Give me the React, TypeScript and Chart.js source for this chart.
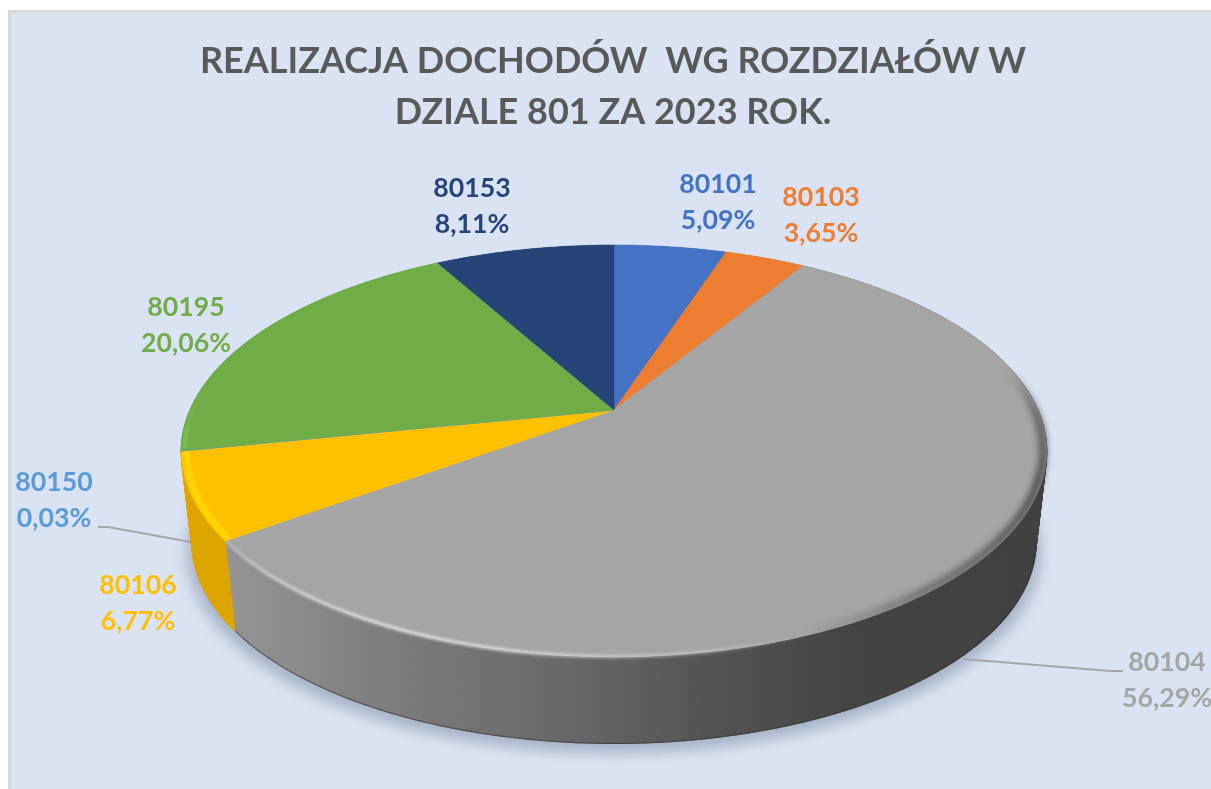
import React, { useEffect, useRef } from "react";
import { Chart, registerables } from "chart.js";

Chart.register(...registerables);

const titleLines = ["REALIZACJA DOCHODÓW  WG ROZDZIAŁÓW W", "DZIALE 801 ZA 2023 ROK."];
const categories = ["80101", "80103", "80104", "80106", "80150", "80195", "80153"];
const shares = [5.09, 3.65, 56.29, 6.77, 0.03, 20.06, 8.11];
const sliceColours = ["#4472C4", "#ED7D31", "#A5A5A5", "#FFC000", "#5B9BD5", "#70AD47", "#264478"];
const sideColours = ["#3A62A8", "#C96A2A", "#666666", "#DDA500", "#4E84B5", "#5F933C", "#203A66"];
const sidePaintOrder = [5, 6, 0, 1, 4, 2, 3];
const labelCentres: [number, number][] = [
  [718, 184], [821, 197], [1167, 662], [138, 585], [54, 482], [186, 307], [472, 188],
];
const leaderLines: [number, number][][] = [
  [[963, 659], [1110, 671], [1123, 671]],
  [[98, 527], [108, 527], [191, 542]],
];

// perspective view of the disc
const view = { cx: 614, cy: 410, a: 424, b: 197.8, k: 0.199, vanishY: 4137, s: 0.975 };

function topPoint(t: number, r = 1): [number, number] {
  const u = Math.sin(t) * r;
  const v = Math.cos(t) * r;
  const d = 1 + view.k * v;
  return [view.cx + (view.a * u) / d, view.cy - (view.b * v) / d];
}
function bottomPoint(t: number): [number, number] {
  const [x, y] = topPoint(t);
  return [view.cx + (x - view.cx) * view.s, view.vanishY + (y - view.vanishY) * view.s];
}
function rimAngles(a: number, b: number): number[] {
  const n = Math.max(2, Math.ceil((b - a) / (Math.PI / 360)));
  const out: number[] = [];
  for (let i = 0; i <= n; i++) out.push(a + ((b - a) * i) / n);
  return out;
}
function lerpTable(table: number[][], deg: number): number {
  for (let i = 0; i < table.length - 1; i++) {
    const [d0, a0] = table[i];
    const [d1, a1] = table[i + 1];
    if (deg >= d0 && deg <= d1) return a0 + ((a1 - a0) * (deg - d0)) / (d1 - d0);
  }
  return 0;
}

const highlightTable = [[158, 0], [168, 0.3], [180, 0.5], [195, 0.75], [205, 0.8], [225, 0.5], [234.2, 0.2]];
const darkTable = [[78, 0], [92, 0.7], [110, 0.95], [140, 0.6], [158, 0]];

function band(
  ctx: CanvasRenderingContext2D,
  a: number,
  b: number,
  r: number,
  width: number,
  blur: number,
  rgb: string,
  alphaAt: (deg: number) => number
) {
  const off = document.createElement("canvas");
  off.width = ctx.canvas.width;
  off.height = ctx.canvas.height;
  const o = off.getContext("2d")!;
  o.lineWidth = width;
  o.lineCap = "butt";
  const pts = rimAngles(a, b);
  for (let i = 0; i < pts.length - 1; i++) {
    const p = topPoint(pts[i], r);
    const q = topPoint(pts[i + 1], r);
    const deg = (pts[i] * 180) / Math.PI;
    o.strokeStyle = `rgba(${rgb},${alphaAt(deg)})`;
    o.beginPath();
    o.moveTo(p[0], p[1]);
    o.lineTo(q[0], q[1]);
    o.stroke();
  }
  ctx.save();
  ctx.filter = `blur(${blur}px)`;
  ctx.drawImage(off, 0, 0);
  ctx.restore();
}

const piePlugin = {
  id: "perspectivePie",
  beforeDraw(chart: any) {
    const { ctx, width, height } = chart;
    ctx.save();
    ctx.fillStyle = "#D9D9D9";
    ctx.fillRect(8, 10, width, height);
    ctx.fillStyle = "#DAE3F3";
    ctx.fillRect(11, 13, width, height);
    ctx.restore();
  },
  beforeDatasetsDraw(chart: any) {
    const ctx: CanvasRenderingContext2D = chart.ctx;
    const arcs = chart.getDatasetMeta(0).data;
    const range = arcs.map((arc: any) => [arc.startAngle + Math.PI / 2, arc.endAngle + Math.PI / 2]);

    // soft shadow under the disc
    ctx.save();
    ctx.filter = "blur(7px)";
    ctx.fillStyle = "rgba(80,100,130,0.38)";
    ctx.beginPath();
    rimAngles(0, Math.PI * 2).forEach((t, i) => {
      const [x, y] = bottomPoint(t);
      const px = view.cx + (x - view.cx) * 1.012;
      const py = y + 9;
      if (i === 0) ctx.moveTo(px, py);
      else ctx.lineTo(px, py);
    });
    ctx.closePath();
    ctx.fill();
    ctx.restore();

    // leader lines
    ctx.save();
    ctx.strokeStyle = "#A6A6A6";
    ctx.lineWidth = 2;
    leaderLines.forEach((line) => {
      ctx.beginPath();
      line.forEach(([x, y], i) => (i === 0 ? ctx.moveTo(x, y) : ctx.lineTo(x, y)));
      ctx.stroke();
    });
    ctx.restore();

    // side wall, one narrow quad at a time so that the fold at the silhouette stays filled
    sidePaintOrder.forEach((i) => {
      const [a, b] = range[i];
      let paint: any = sideColours[i];
      if (categories[i] === "80104") {
        const g = ctx.createLinearGradient(230, 0, 1047, 0);
        g.addColorStop(0, "#949494");
        g.addColorStop(0.2, "#7C7C7C");
        g.addColorStop(0.45, "#646464");
        g.addColorStop(0.58, "#545454");
        g.addColorStop(0.76, "#444444");
        g.addColorStop(1, "#414141");
        paint = g;
      }
      ctx.fillStyle = paint;
      ctx.strokeStyle = paint;
      ctx.lineWidth = 1.4;
      ctx.lineJoin = "round";
      const pts = rimAngles(a, b);
      const inset = 0.7;
      for (let j = 0; j < pts.length - 1; j++) {
        const p0 = topPoint(pts[j]);
        const p1 = topPoint(pts[j + 1]);
        const q1 = bottomPoint(pts[j + 1]);
        const q0 = bottomPoint(pts[j]);
        ctx.beginPath();
        ctx.moveTo(p0[0], p0[1] + inset);
        ctx.lineTo(p1[0], p1[1] + inset);
        ctx.lineTo(q1[0], q1[1] - inset);
        ctx.lineTo(q0[0], q0[1] - inset);
        ctx.closePath();
        ctx.fill();
        ctx.stroke();
      }
    });

    // darker line along the lower edge of the wall
    ctx.save();
    ctx.strokeStyle = "rgba(50,50,50,0.55)";
    ctx.lineWidth = 1.2;
    ctx.beginPath();
    rimAngles(Math.PI * 0.56, range[2][1]).forEach((t, j) => {
      const [x, y] = bottomPoint(t);
      if (j === 0) ctx.moveTo(x, y - 0.5);
      else ctx.lineTo(x, y - 0.5);
    });
    ctx.stroke();
    ctx.restore();

    // top face
    arcs.forEach((arc: any, i: number) => {
      const [a, b] = range[i];
      ctx.beginPath();
      ctx.moveTo(view.cx, view.cy);
      rimAngles(a, b).forEach((t) => {
        const [x, y] = topPoint(t);
        ctx.lineTo(x, y);
      });
      ctx.closePath();
      ctx.fillStyle = arc.options.backgroundColor;
      ctx.strokeStyle = arc.options.backgroundColor;
      ctx.lineWidth = 0.6;
      ctx.fill();
      ctx.stroke();
    });

    // bevel along the rim
    const grey = range[2];
    band(ctx, Math.PI / 3, Math.PI * 0.9, 0.992, 8, 3, "67,67,67", (d) => lerpTable(darkTable, d));
    band(ctx, Math.PI * 0.85, grey[1], 0.999, 3.5, 1.4, "240,240,240", (d) => lerpTable(highlightTable, d));
    const y = range[3];
    band(ctx, y[0] + 0.008, y[1] - 0.008, 0.989, 6, 1, "255,216,0", () => 1);
    const gr = range[5];
    band(ctx, gr[0] + 0.01, gr[0] + 0.25, 0.993, 4, 1, "128,196,84", (d) =>
      lerpTable([[(gr[0] * 180) / Math.PI, 1], [((gr[0] + 0.25) * 180) / Math.PI, 0]], d)
    );

    // data labels
    ctx.save();
    ctx.font = "700 26.7px Lato";
    ctx.textAlign = "center";
    ctx.textBaseline = "middle";
    categories.forEach((name, i) => {
      const [x, yy] = labelCentres[i];
      ctx.fillStyle = sliceColours[i];
      ctx.fillText(name, x, yy);
      ctx.fillText(shares[i].toFixed(2).replace(".", ",") + "%", x, yy + 36);
    });
    ctx.restore();
    return false;
  },
};

export default function App() {
  const ref = useRef<HTMLCanvasElement>(null);
  useEffect(() => {
    document.body.style.margin = "0";
    const chart = new Chart(ref.current!, {
      type: "pie",
      data: {
        labels: categories,
        datasets: [{ data: shares, backgroundColor: sliceColours, borderWidth: 0 }],
      },
      options: {
        responsive: false,
        animation: false,
        layout: { padding: { left: 15, top: 35 } },
        plugins: {
          legend: { display: false },
          tooltip: { enabled: false },
          title: {
            display: true,
            text: titleLines,
            color: "#595959",
            font: { family: "Lato", weight: "bold", size: 36, lineHeight: 1.44 },
            padding: 0,
          },
        },
      },
      plugins: [piePlugin],
    } as any);
    return () => chart.destroy();
  }, []);
  return <canvas ref={ref} width={1211} height={789} style={{ display: "block" }} />;
}
